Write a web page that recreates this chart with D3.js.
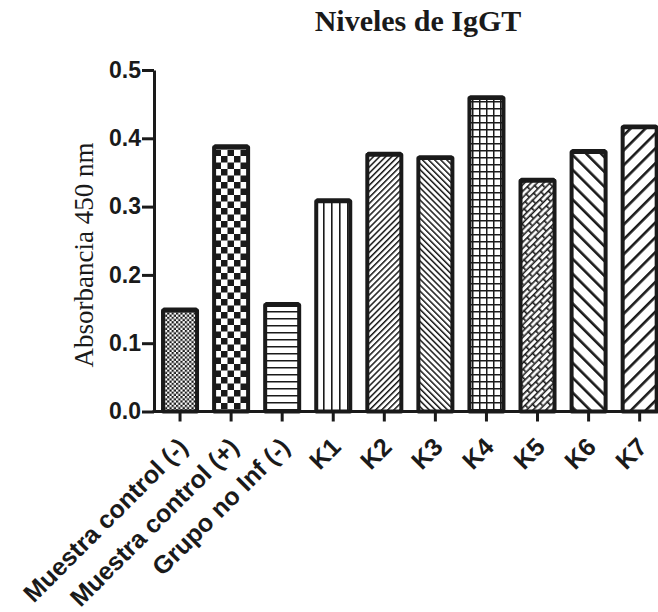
<!DOCTYPE html>
<html>
<head>
<meta charset="utf-8">
<script src="https://cdn.jsdelivr.net/npm/d3@7"></script>
<style>
  body { margin: 0; background: #fff; }
  svg { display: block; }
</style>
</head>
<body>
<svg id="chart" width="658" height="612"></svg>
<script>
// data
var categories = ["Muestra control (-)", "Muestra control (+)", "Grupo no Inf (-)",
                  "K1", "K2", "K3", "K4", "K5", "K6", "K7"];
var values = [0.148, 0.387, 0.156, 0.308, 0.376, 0.371, 0.459, 0.338, 0.380, 0.416];
var errors = [0.002, 0.002, 0.002, 0.002, 0.002, 0.002, 0.002, 0.002, 0.002, 0.002];
var fills = ["dots", "checker", "hlines", "vlines", "fdiag", "bdiag", "grid", "brick", "wbdiag", "wfdiag"];
var yTicks = [0.0, 0.1, 0.2, 0.3, 0.4, 0.5];

var svg = d3.select("#chart");
var ink = "#1a1a1a";

var x = d3.scaleBand()
    .domain(categories)
    .range([154.5, 665.2])
    .paddingInner(0.334)
    .paddingOuter(0.167);
var y = d3.scaleLinear().domain([0, 0.5]).range([411.5, 70]);

// hatch patterns
var defs = svg.append("defs");
function pat(id, w, h, rot) {
    var p = defs.append("pattern")
        .attr("id", id)
        .attr("patternUnits", "userSpaceOnUse")
        .attr("width", w).attr("height", h);
    if (rot) p.attr("patternTransform", "rotate(" + rot + ")");
    p.append("rect").attr("width", w).attr("height", h).attr("fill", "#fff");
    return p;
}
var p;
p = pat("dots", 4.4, 4.4);
p.append("rect").attr("width", 2.2).attr("height", 2.2).attr("fill", ink);
p.append("rect").attr("x", 2.2).attr("y", 2.2).attr("width", 2.2).attr("height", 2.2).attr("fill", ink);

p = pat("checker", 13, 13);
p.append("rect").attr("width", 6.5).attr("height", 6.5).attr("fill", ink);
p.append("rect").attr("x", 6.5).attr("y", 6.5).attr("width", 6.5).attr("height", 6.5).attr("fill", ink);

p = pat("hlines", 7, 7);
p.append("rect").attr("y", 3).attr("width", 7).attr("height", 1.5).attr("fill", ink);

p = pat("vlines", 8, 8);
p.append("rect").attr("x", 3).attr("width", 1.6).attr("height", 8).attr("fill", ink);

p = pat("fdiag", 4.3, 4.3, 45);
p.append("rect").attr("width", 1.5).attr("height", 4.3).attr("fill", ink);

p = pat("bdiag", 4.3, 4.3, -45);
p.append("rect").attr("width", 1.5).attr("height", 4.3).attr("fill", ink);

p = pat("grid", 7, 7);
p.append("rect").attr("y", 3).attr("width", 7).attr("height", 1.5).attr("fill", ink);
p.append("rect").attr("x", 3).attr("width", 1.5).attr("height", 7).attr("fill", ink);

p = pat("brick", 12, 9, -45);
p.append("rect").attr("y", 0).attr("width", 12).attr("height", 1.6).attr("fill", ink);
p.append("rect").attr("y", 4.5).attr("width", 12).attr("height", 1.6).attr("fill", ink);
p.append("rect").attr("x", 0).attr("y", 0).attr("width", 1.6).attr("height", 4.5).attr("fill", ink);
p.append("rect").attr("x", 6).attr("y", 4.5).attr("width", 1.6).attr("height", 4.5).attr("fill", ink);

p = pat("wbdiag", 10.5, 10.5, -45);
p.append("rect").attr("width", 2.6).attr("height", 10.5).attr("fill", ink);

p = pat("wfdiag", 10.5, 10.5, 45);
p.append("rect").attr("width", 2.6).attr("height", 10.5).attr("fill", ink);

// title
svg.append("text")
    .attr("x", 418).attr("y", 31)
    .attr("text-anchor", "middle")
    .style("font-family", "'Liberation Serif', 'Times New Roman', serif")
    .style("font-weight", "bold")
    .style("font-size", "30px")
    .attr("fill", ink)
    .text("Niveles de IgGT");

// y label
svg.append("text")
    .attr("transform", "translate(93,255) rotate(-90)")
    .attr("text-anchor", "middle")
    .style("font-family", "'Liberation Serif', 'Times New Roman', serif")
    .style("font-size", "27px")
    .attr("fill", ink)
    .text("Absorbancia 450 nm");

// bars
var bars = svg.append("g");
bars.selectAll("rect")
    .data(categories)
    .enter()
    .append("rect")
    .attr("x", function (d) { return x(d); })
    .attr("y", function (d, i) { return y(values[i]); })
    .attr("width", x.bandwidth())
    .attr("height", function (d, i) { return y(0) - y(values[i]); })
    .attr("fill", function (d, i) { return "url(#" + fills[i] + ")"; })
    .attr("stroke", ink)
    .attr("stroke-width", 4)
    .attr("stroke-linejoin", "round");

// small error caps on top
bars.selectAll("line.cap")
    .data(categories)
    .enter()
    .append("line")
    .attr("class", "cap")
    .attr("x1", function (d) { return x(d) + 1; })
    .attr("x2", function (d) { return x(d) + x.bandwidth() - 1; })
    .attr("y1", function (d, i) { return y(values[i] + errors[i]); })
    .attr("y2", function (d, i) { return y(values[i] + errors[i]); })
    .attr("stroke", ink)
    .attr("stroke-width", 3)
    .attr("stroke-linecap", "round");

// axes
var yAxis = svg.append("g")
    .attr("transform", "translate(154,0)")
    .call(d3.axisLeft(y).tickValues(yTicks).tickFormat(d3.format(".1f"))
        .tickSize(12).tickSizeOuter(0).tickPadding(1));
yAxis.selectAll("path, line").attr("stroke", ink).attr("stroke-width", 3);
yAxis.selectAll("text")
    .style("font-family", "'Liberation Sans', Arial, sans-serif")
    .style("font-weight", "bold")
    .style("font-size", "23px")
    .attr("fill", ink);

var xAxis = svg.append("g")
    .attr("transform", "translate(0," + y(0) + ")")
    .call(d3.axisBottom(x).tickSize(10).tickSizeOuter(0));
xAxis.select(".domain").attr("d", "M152.5,0H658");
xAxis.selectAll("path, line").attr("stroke", ink).attr("stroke-width", 3);
xAxis.selectAll(".tick text").remove();
xAxis.selectAll(".tick")
    .append("text")
    .attr("transform", "translate(9,37) rotate(-45)")
    .attr("text-anchor", "end")
    .style("font-family", "'Liberation Sans', Arial, sans-serif")
    .style("font-weight", "bold")
    .style("font-size", "25px")
    .attr("fill", ink)
    .text(function (d) { return d; });
</script>
</body>
</html>
